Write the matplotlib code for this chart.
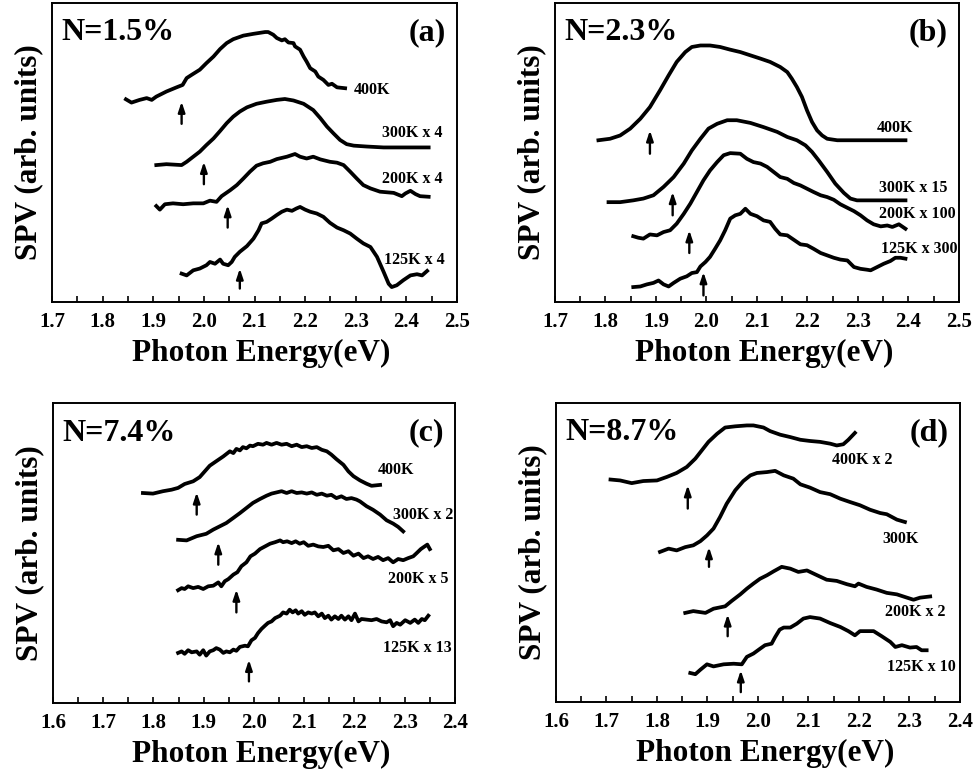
import matplotlib
matplotlib.use("Agg")
import matplotlib.pyplot as plt
from matplotlib.ticker import MultipleLocator, FormatStrFormatter

plt.rcParams['font.family'] = ['Liberation Serif', 'DejaVu Serif']
plt.rcParams['font.weight'] = 'bold'

# ---- panel (a): N=1.5% ----
a_400_x = [1.846, 1.857, 1.873, 1.887, 1.897, 1.906, 1.926, 1.946, 1.958, 1.966, 1.976, 1.992,
           2.005, 2.019, 2.032, 2.045, 2.058, 2.078, 2.098, 2.121, 2.127, 2.137, 2.144, 2.154,
           2.160, 2.167, 2.177, 2.180, 2.190, 2.197, 2.203, 2.210, 2.220, 2.226, 2.236, 2.246,
           2.253, 2.263, 2.279]
a_400_y = [67.8, 66.7, 67.6, 68.2, 67.6, 68.7, 70.4, 71.8, 72.6, 74.9, 76.0, 77.7,
           79.9, 82.1, 84.6, 86.6, 87.9, 89.1, 89.7, 90.3, 90.3, 89.4, 88.3, 87.5,
           87.9, 86.8, 86.6, 85.5, 84.4, 82.1, 80.4, 78.2, 77.1, 75.4, 74.3, 72.6,
           73.0, 71.8, 71.5]
a_300_x = [1.906, 1.926, 1.956, 1.966, 1.979, 1.992, 2.005, 2.019, 2.032, 2.045, 2.058, 2.071,
           2.085, 2.104, 2.124, 2.144, 2.160, 2.177, 2.197, 2.216, 2.230, 2.243, 2.256, 2.269,
           2.282, 2.296, 2.322, 2.355, 2.388, 2.444]
a_300_y = [45.8, 46.1, 45.8, 46.9, 48.6, 50.3, 52.5, 54.7, 57.2, 59.8, 62.0, 63.7,
           65.1, 66.3, 67.0, 67.6, 67.9, 67.4, 66.3, 64.2, 61.5, 58.7, 56.4, 54.2,
           52.8, 52.3, 52.0, 51.7, 51.7, 51.7]
a_200_x = [1.906, 1.913, 1.923, 1.939, 1.959, 1.979, 1.999, 2.012, 2.025, 2.035, 2.052, 2.065,
           2.078, 2.091, 2.104, 2.117, 2.131, 2.144, 2.164, 2.180, 2.190, 2.203, 2.216, 2.230,
           2.249, 2.263, 2.276, 2.289, 2.302, 2.315, 2.329, 2.348, 2.375, 2.391, 2.398, 2.408,
           2.418, 2.427, 2.444]
a_200_y = [32.1, 30.9, 32.7, 33.0, 32.7, 33.0, 33.0, 33.9, 33.5, 35.4, 37.4, 39.1,
           41.3, 43.6, 45.6, 46.4, 46.9, 47.8, 48.6, 49.5, 48.6, 48.0, 48.6, 47.7,
           46.9, 46.6, 45.8, 43.6, 41.3, 39.1, 38.0, 36.9, 36.5, 35.4, 36.3, 37.2,
           36.1, 35.4, 35.2]
a_125_x = [1.956, 1.966, 1.979, 1.992, 2.005, 2.012, 2.022, 2.032, 2.038, 2.048, 2.055, 2.061,
           2.071, 2.085, 2.098, 2.108, 2.114, 2.124, 2.134, 2.144, 2.154, 2.164, 2.174, 2.183,
           2.190, 2.200, 2.210, 2.223, 2.236, 2.249, 2.263, 2.276, 2.289, 2.302, 2.315, 2.329,
           2.342, 2.355, 2.365, 2.371, 2.381, 2.394, 2.408, 2.421, 2.431, 2.441]
a_125_y = [9.5, 8.9, 10.6, 11.2, 12.3, 13.4, 12.8, 14.2, 12.8, 12.3, 13.4, 15.1,
           16.8, 18.7, 21.2, 24.0, 26.3, 26.8, 27.9, 29.1, 30.2, 30.9, 30.5, 31.3,
           31.8, 30.9, 30.2, 29.6, 28.5, 26.5, 24.9, 24.0, 22.9, 21.2, 19.6, 18.4,
           15.1, 10.1, 6.1, 5.0, 5.6, 7.3, 8.9, 9.3, 8.9, 10.4]
a_labels = ['400K', '300K x 4', '200K x 4', '125K x 4']
a_label_x = [2.296, 2.352, 2.352, 2.355]
a_label_y = [70.9, 56.4, 41.0, 14.0]
a_arrow_x = [1.956, 2.000, 2.047, 2.071]
a_arrow_tip = [67.0, 46.9, 32.4, 11.2]
a_arrow_tail = [59.6, 39.4, 24.9, 4.5]

# ---- panel (b): N=2.3% ----
b_400_x = [1.786, 1.809, 1.829, 1.849, 1.869, 1.888, 1.908, 1.925, 1.941, 1.958, 1.971, 1.988,
           2.007, 2.027, 2.047, 2.067, 2.087, 2.107, 2.126, 2.146, 2.160, 2.169, 2.179, 2.189,
           2.199, 2.209, 2.219, 2.229, 2.239, 2.259, 2.325, 2.394]
b_400_y = [54.1, 54.6, 55.7, 58.0, 61.3, 65.2, 70.8, 75.8, 80.3, 83.6, 85.3, 85.8,
           85.8, 85.3, 84.4, 83.6, 82.5, 81.4, 80.3, 78.6, 76.9, 74.7, 71.9, 68.6,
           64.1, 60.2, 57.4, 55.7, 54.6, 54.1, 54.1, 54.1]
b_300_x = [1.806, 1.829, 1.855, 1.875, 1.895, 1.915, 1.935, 1.955, 1.971, 1.988, 2.004, 2.021,
           2.041, 2.060, 2.087, 2.113, 2.140, 2.160, 2.179, 2.196, 2.209, 2.222, 2.239, 2.255,
           2.272, 2.285, 2.298, 2.394]
b_300_y = [33.4, 33.4, 34.0, 34.6, 35.7, 38.5, 41.8, 46.3, 50.7, 54.6, 58.0, 59.6,
           60.8, 60.8, 59.9, 58.5, 56.9, 55.2, 54.1, 52.4, 50.2, 47.4, 43.5, 39.6,
           36.5, 34.6, 34.0, 34.0]
b_200_x = [1.855, 1.865, 1.875, 1.888, 1.902, 1.915, 1.928, 1.941, 1.955, 1.968, 1.981, 1.994,
           2.007, 2.021, 2.034, 2.047, 2.067, 2.080, 2.093, 2.107, 2.120, 2.133, 2.146, 2.160,
           2.173, 2.186, 2.199, 2.212, 2.226, 2.239, 2.252, 2.265, 2.279, 2.292, 2.305, 2.318,
           2.331, 2.345, 2.358, 2.368, 2.381, 2.394]
b_200_y = [22.0, 21.5, 21.2, 22.6, 22.3, 23.4, 24.0, 26.2, 29.5, 32.9, 36.8, 40.7,
           44.0, 46.8, 49.1, 49.8, 49.6, 47.9, 46.8, 46.3, 45.2, 43.5, 41.8, 41.2,
           39.8, 39.0, 37.9, 36.8, 35.7, 35.1, 34.2, 32.7, 31.5, 30.4, 29.0, 27.3,
           26.0, 25.3, 25.6, 25.1, 26.0, 24.5]
b_125_x = [1.855, 1.869, 1.882, 1.895, 1.905, 1.915, 1.925, 1.935, 1.948, 1.961, 1.971, 1.981,
           1.988, 1.998, 2.007, 2.017, 2.027, 2.037, 2.047, 2.057, 2.067, 2.077, 2.087, 2.100,
           2.113, 2.126, 2.136, 2.146, 2.160, 2.173, 2.186, 2.199, 2.212, 2.226, 2.239, 2.252,
           2.265, 2.279, 2.292, 2.305, 2.318, 2.325, 2.338, 2.351, 2.364, 2.374, 2.384, 2.394]
b_125_y = [5.0, 5.2, 5.9, 6.4, 7.2, 5.9, 5.2, 6.4, 7.8, 8.6, 9.7, 10.0,
           11.9, 13.4, 15.1, 17.8, 20.6, 24.0, 27.9, 29.0, 29.5, 31.2, 29.5, 28.7,
           27.3, 26.8, 24.5, 22.6, 22.3, 20.8, 19.3, 19.0, 17.8, 16.4, 15.6, 14.8,
           14.2, 13.9, 11.7, 11.1, 10.8, 10.6, 11.7, 12.8, 13.7, 14.8, 14.8, 14.5]
b_labels = ['400K', '300K x 15', '200K x 100', '125K x 300']
b_label_x = [2.338, 2.341, 2.341, 2.345]
b_label_y = [58.3, 38.1, 29.5, 17.8]
b_arrow_x = [1.888, 1.933, 1.966, 1.994]
b_arrow_tip = [57.4, 36.8, 24.0, 10.0]
b_arrow_tail = [49.6, 29.0, 16.4, 2.2]

# ---- panel (c): N=7.4% ----
c_400_x = [1.779, 1.799, 1.819, 1.836, 1.849, 1.862, 1.879, 1.892, 1.902, 1.912, 1.925, 1.939,
           1.952, 1.959, 1.965, 1.972, 1.978, 1.985, 1.992, 1.998, 2.008, 2.018, 2.025, 2.035,
           2.045, 2.055, 2.065, 2.075, 2.085, 2.095, 2.105, 2.115, 2.125, 2.135, 2.145, 2.154,
           2.164, 2.178, 2.188, 2.198, 2.211, 2.224, 2.234, 2.251]
c_400_y = [70.0, 69.8, 70.6, 71.1, 71.7, 73.0, 73.9, 75.3, 77.2, 79.1, 80.6, 82.2,
           83.9, 83.3, 84.7, 84.2, 85.3, 84.9, 85.8, 85.6, 86.4, 86.1, 86.7, 86.1,
           86.7, 86.1, 86.4, 85.6, 86.1, 85.3, 85.6, 85.0, 85.3, 84.4, 83.9, 82.8,
           81.3, 79.4, 77.2, 75.6, 74.2, 73.1, 72.4, 72.7]
c_300_x = [1.849, 1.866, 1.886, 1.905, 1.919, 1.932, 1.945, 1.959, 1.972, 1.985, 1.998, 2.012,
           2.025, 2.035, 2.045, 2.055, 2.065, 2.075, 2.085, 2.095, 2.105, 2.115, 2.125, 2.135,
           2.145, 2.154, 2.164, 2.174, 2.184, 2.194, 2.204, 2.211, 2.224, 2.237, 2.251, 2.264,
           2.277, 2.287, 2.297]
c_300_y = [54.4, 54.2, 55.6, 56.4, 57.8, 58.9, 60.0, 61.7, 63.3, 65.0, 66.7, 68.0,
           69.1, 69.8, 70.2, 70.6, 70.0, 70.6, 70.0, 70.2, 69.8, 70.2, 69.4, 69.8,
           69.1, 69.4, 68.3, 68.9, 68.0, 68.3, 67.8, 67.2, 65.6, 64.4, 62.8, 60.9,
           59.8, 58.7, 57.2]
c_200_x = [1.849, 1.856, 1.862, 1.869, 1.879, 1.889, 1.899, 1.909, 1.919, 1.929, 1.935, 1.942,
           1.949, 1.959, 1.967, 1.975, 1.985, 1.993, 2.002, 2.012, 2.022, 2.032, 2.042, 2.052,
           2.058, 2.066, 2.075, 2.083, 2.091, 2.099, 2.108, 2.118, 2.128, 2.138, 2.148, 2.158,
           2.168, 2.178, 2.188, 2.198, 2.208, 2.218, 2.227, 2.237, 2.247, 2.257, 2.267, 2.277,
           2.287, 2.297, 2.307, 2.317, 2.324, 2.332, 2.338, 2.345, 2.350]
c_200_y = [37.6, 38.3, 38.0, 38.9, 38.3, 38.7, 38.0, 38.9, 39.1, 40.2, 38.9, 40.6,
           41.3, 42.8, 43.6, 45.6, 46.9, 48.9, 49.8, 51.3, 52.2, 53.1, 53.6, 54.2,
           53.6, 53.9, 53.3, 53.9, 53.1, 53.6, 52.4, 52.8, 52.2, 52.0, 52.4, 50.9,
           51.3, 50.0, 50.6, 49.1, 49.8, 48.3, 48.9, 48.0, 48.7, 47.6, 48.3, 46.9,
           48.0, 47.6, 48.3, 48.9, 50.0, 51.3, 52.0, 52.8, 51.3]
c_125_x = [1.849, 1.856, 1.862, 1.869, 1.876, 1.886, 1.892, 1.899, 1.905, 1.912, 1.919, 1.925,
           1.932, 1.939, 1.945, 1.952, 1.959, 1.965, 1.972, 1.982, 1.988, 1.995, 2.002, 2.008,
           2.015, 2.022, 2.028, 2.035, 2.042, 2.052, 2.058, 2.065, 2.071, 2.077, 2.083, 2.088,
           2.095, 2.101, 2.108, 2.115, 2.121, 2.128, 2.135, 2.141, 2.148, 2.154, 2.161, 2.168,
           2.174, 2.181, 2.188, 2.194, 2.201, 2.208, 2.214, 2.224, 2.234, 2.244, 2.254, 2.264,
           2.271, 2.277, 2.284, 2.291, 2.301, 2.311, 2.320, 2.327, 2.334, 2.340, 2.347]
c_125_y = [16.7, 17.2, 16.4, 17.6, 16.9, 17.2, 16.1, 17.6, 15.8, 17.2, 17.6, 18.3,
           17.8, 16.7, 17.2, 16.9, 17.8, 17.4, 18.7, 19.1, 18.9, 20.9, 21.7, 23.3,
           24.7, 25.8, 26.7, 27.2, 28.3, 29.1, 30.2, 29.8, 31.1, 30.2, 30.9, 29.8,
           30.6, 29.4, 30.2, 29.8, 30.2, 28.9, 29.8, 28.3, 29.1, 27.8, 28.9, 28.0,
           29.1, 27.8, 28.9, 27.6, 29.8, 27.2, 28.0, 27.8, 27.6, 28.0, 27.2, 26.9,
           27.6, 25.6, 26.7, 26.1, 27.6, 26.7, 27.8, 26.7, 28.0, 27.6, 29.1]
c_labels = ['400K', '300K x 2', '200K x 5', '125K x 13']
c_label_x = [2.246, 2.277, 2.266, 2.257]
c_label_y = [77.6, 62.8, 41.3, 18.3]
c_arrow_x = [1.886, 1.929, 1.965, 1.990]
c_arrow_tip = [70.2, 53.6, 37.8, 14.4]
c_arrow_tail = [62.8, 46.1, 30.2, 7.2]

# ---- panel (d): N=8.7% ----
d_400_x = [1.708, 1.727, 1.750, 1.773, 1.800, 1.820, 1.839, 1.859, 1.876, 1.889, 1.902, 1.919,
           1.935, 1.955, 1.978, 1.991, 2.011, 2.024, 2.044, 2.064, 2.084, 2.103, 2.123, 2.143,
           2.156, 2.169, 2.179, 2.192]
d_400_y = [74.4, 74.1, 73.2, 73.9, 74.1, 75.3, 76.6, 78.6, 81.4, 84.2, 87.0, 89.7,
           91.8, 92.2, 92.5, 92.5, 91.8, 90.6, 89.4, 88.6, 87.7, 87.3, 87.0, 86.4,
           85.8, 86.2, 87.7, 90.0]
d_300_x = [1.806, 1.823, 1.839, 1.856, 1.872, 1.886, 1.899, 1.912, 1.925, 1.938, 1.955, 1.971,
           1.985, 1.998, 2.018, 2.034, 2.051, 2.070, 2.084, 2.103, 2.123, 2.143, 2.163, 2.182,
           2.202, 2.222, 2.242, 2.255, 2.275, 2.291]
d_300_y = [50.2, 51.3, 50.7, 51.8, 52.4, 53.8, 55.7, 58.0, 61.9, 66.3, 70.8, 73.9,
           75.8, 76.6, 76.9, 77.3, 75.8, 74.7, 72.8, 71.7, 70.2, 69.5, 68.0, 66.9,
           65.8, 64.3, 63.2, 62.8, 61.0, 60.2]
d_200_x = [1.856, 1.872, 1.896, 1.912, 1.935, 1.948, 1.965, 1.978, 1.991, 2.004, 2.018, 2.031,
           2.047, 2.064, 2.080, 2.097, 2.117, 2.136, 2.156, 2.176, 2.192, 2.199, 2.215, 2.235,
           2.255, 2.275, 2.295, 2.308, 2.321, 2.341]
d_200_y = [29.8, 30.4, 29.8, 31.2, 32.0, 33.8, 36.0, 37.9, 39.6, 41.2, 42.4, 43.7,
           45.2, 44.6, 43.5, 44.0, 42.4, 40.9, 40.5, 39.4, 38.7, 39.6, 38.5, 37.6,
           36.5, 36.0, 34.9, 34.2, 34.9, 35.3]
d_125_x = [1.866, 1.876, 1.886, 1.899, 1.912, 1.932, 1.952, 1.968, 1.978, 1.991, 2.004, 2.014,
           2.027, 2.034, 2.043, 2.051, 2.064, 2.077, 2.090, 2.103, 2.123, 2.143, 2.163, 2.179,
           2.192, 2.202, 2.229, 2.245, 2.262, 2.272, 2.285, 2.301, 2.314, 2.324, 2.334]
d_125_y = [9.7, 9.3, 10.8, 12.6, 11.9, 12.6, 12.8, 12.6, 15.1, 16.2, 17.8, 19.0,
           19.5, 21.7, 24.2, 24.9, 24.9, 26.2, 27.9, 28.4, 27.9, 26.4, 25.1, 23.7,
           22.3, 23.7, 23.7, 22.0, 20.1, 18.4, 19.0, 18.2, 18.4, 17.3, 17.3]
d_labels = ['400K x 2', '300K', '200K x 2', '125K x 10']
d_label_x = [2.146, 2.247, 2.252, 2.255]
d_label_y = [80.8, 54.6, 30.1, 11.7]
d_arrow_x = [1.861, 1.903, 1.940, 1.966]
d_arrow_tip = [72.5, 51.8, 29.3, 10.6]
d_arrow_tail = [64.7, 45.2, 22.0, 3.3]

panel_titles = ['N=1.5%', 'N=2.3%', 'N=7.4%', 'N=8.7%']
panel_tags = ['(a)', '(b)', '(c)', '(d)']
panel_xlims = [(1.7, 2.5), (1.7, 2.5), (1.6, 2.4), (1.6, 2.4)]

panels = [
    ([(a_400_x, a_400_y), (a_300_x, a_300_y), (a_200_x, a_200_y), (a_125_x, a_125_y)],
     a_labels, a_label_x, a_label_y, a_arrow_x, a_arrow_tip, a_arrow_tail),
    ([(b_400_x, b_400_y), (b_300_x, b_300_y), (b_200_x, b_200_y), (b_125_x, b_125_y)],
     b_labels, b_label_x, b_label_y, b_arrow_x, b_arrow_tip, b_arrow_tail),
    ([(c_400_x, c_400_y), (c_300_x, c_300_y), (c_200_x, c_200_y), (c_125_x, c_125_y)],
     c_labels, c_label_x, c_label_y, c_arrow_x, c_arrow_tip, c_arrow_tail),
    ([(d_400_x, d_400_y), (d_300_x, d_300_y), (d_200_x, d_200_y), (d_125_x, d_125_y)],
     d_labels, d_label_x, d_label_y, d_arrow_x, d_arrow_tip, d_arrow_tail),
]

# axes boxes in figure fraction (left, bottom, width, height)
boxes = [[0.0534, 0.6103, 0.4158, 0.3858],
         [0.5698, 0.6103, 0.4148, 0.3858],
         [0.0544, 0.0929, 0.4127, 0.3871],
         [0.5708, 0.0942, 0.4148, 0.3858]]

fig = plt.figure(figsize=(9.74, 7.75), dpi=100)

for i, (curves, labels, lx, ly, ax_x, tip, tail) in enumerate(panels):
    ax = fig.add_axes(boxes[i])
    for (x, y) in curves:
        ax.plot(x, y, color='black', lw=2.7, solid_joinstyle='round')
    for j in range(len(labels)):
        ax.text(lx[j], ly[j], labels[j], fontsize=11.5, fontweight='bold',
                ha='left', va='center')
        ax.annotate('', xy=(ax_x[j], tip[j]), xytext=(ax_x[j], tail[j]),
                    arrowprops=dict(arrowstyle='-|>,head_length=0.6,head_width=0.2',
                                    lw=1.7, color='black', shrinkA=0, shrinkB=0))
    ax.text(0.023, 0.90, panel_titles[i], transform=ax.transAxes,
            fontsize=23, fontweight='bold', ha='left', va='center')
    ax.text(0.973, 0.90, panel_tags[i], transform=ax.transAxes,
            fontsize=23, fontweight='bold', ha='right', va='center')

    ax.set_xlim(*panel_xlims[i])
    ax.set_ylim(0, 100)
    ax.xaxis.set_major_locator(MultipleLocator(0.1))
    ax.xaxis.set_minor_locator(MultipleLocator(0.05))
    ax.xaxis.set_major_formatter(FormatStrFormatter('%.1f'))
    ax.set_yticks([])
    ax.tick_params(axis='x', which='both', direction='in', length=4, width=1.2,
                   labelsize=15, pad=7)
    for lab in ax.get_xticklabels():
        lab.set_fontweight('bold')
    for sp in ax.spines.values():
        sp.set_linewidth(1.4)
    ax.set_xlabel('Photon Energy(eV)', fontsize=22.5, fontweight='bold', labelpad=5)
    ax.xaxis.label.set_x(0.517)
    ax.set_ylabel('SPV (arb. units)', fontsize=22.5, fontweight='bold', labelpad=6)

fig.savefig('out.png', dpi=100)
